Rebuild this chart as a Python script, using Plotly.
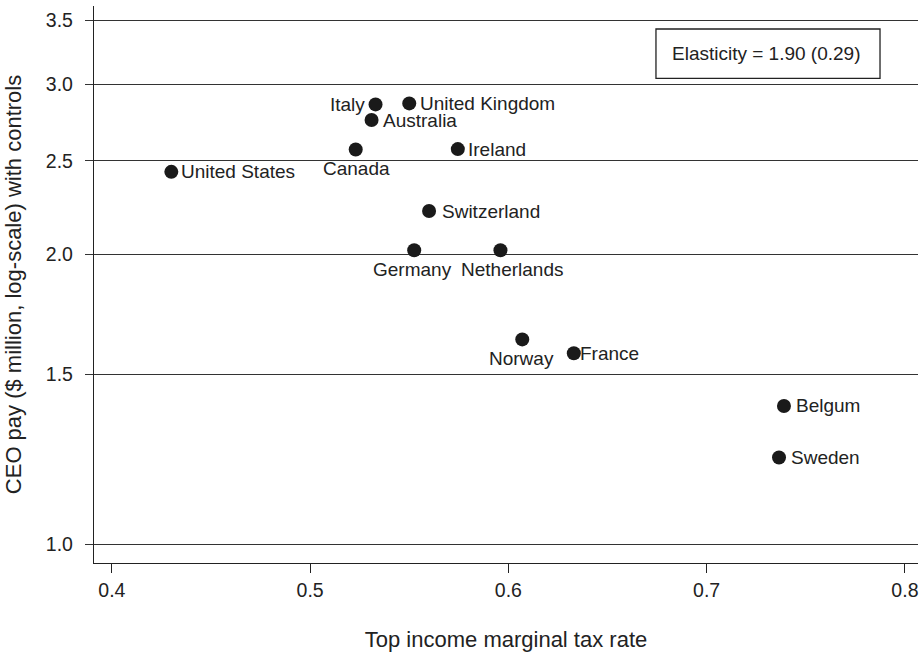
import plotly.graph_objects as go
import math

countries = ["United States", "Italy", "United Kingdom", "Australia", "Canada", "Ireland",
             "Switzerland", "Germany", "Netherlands", "Norway", "France", "Belgum", "Sweden"]
tax_rate = [0.430, 0.533, 0.550, 0.531, 0.523, 0.5745,
            0.560, 0.5525, 0.596, 0.607, 0.633, 0.739, 0.7365]
ceo_pay = [2.435, 2.861, 2.868, 2.756, 2.569, 2.571,
           2.217, 2.019, 2.019, 1.631, 1.578, 1.391, 1.230]
# label placement: (side, horizontal shift px)
label_side = ["right", "left", "right", "right", "below", "right",
              "right", "below", "below", "below", "right", "right", "right"]
label_dx = [9, -10, 10, 10, 1, 9, 12, -2, 11.5, -1, 5, 11, 11]

y_ticks = [1.0, 1.5, 2.0, 2.5, 3.0, 3.5]
y_ticklabels = ["1.0", "1.5", "2.0", "2.5", "3.0", "3.5"]
x_ticks = [0.4, 0.5, 0.6, 0.7, 0.8]
x_ticklabels = ["0.4", "0.5", "0.6", "0.7", "0.8"]

FONT = "Liberation Sans, Arial, sans-serif"
TXT = "#222222"
LBL = 19

fig = go.Figure()
fig.add_trace(go.Scatter(
    x=tax_rate, y=ceo_pay, mode="markers",
    marker=dict(size=14, color="#1a1a1a"),
    cliponaxis=False, showlegend=False, hovertext=countries,
))

for name, xv, yv, side, dx in zip(countries, tax_rate, ceo_pay, label_side, label_dx):
    if side == "right":
        kw = dict(xanchor="left", yanchor="middle", xshift=dx, yshift=0)
    elif side == "left":
        kw = dict(xanchor="right", yanchor="middle", xshift=dx, yshift=0)
    else:
        kw = dict(xanchor="center", yanchor="top", xshift=dx, yshift=-8)
    fig.add_annotation(x=xv, y=math.log10(yv), xref="x", yref="y", text=name,
                       showarrow=False, borderpad=0,
                       font=dict(family=FONT, size=LBL, color=TXT), **kw)

fig.update_layout(
    width=924, height=653,
    margin=dict(l=94, r=6, t=6, b=90),
    paper_bgcolor="white", plot_bgcolor="white",
    font=dict(family=FONT, size=19, color=TXT),
    xaxis=dict(
        range=[0.391, 0.8066], tickvals=x_ticks, ticktext=x_ticklabels,
        automargin=False,
        showgrid=False, zeroline=False, showline=True, linecolor="#222", linewidth=1.3,
        ticks="outside", ticklen=9, tickcolor="#222", tickwidth=1.3,
        tickfont=dict(size=19.5, color=TXT),
        title=dict(text="Top income marginal tax rate", font=dict(size=22, color=TXT), standoff=32),
    ),
    yaxis=dict(
        type="log", range=[math.log10(0.9556), math.log10(3.62)],
        tickvals=y_ticks, ticktext=y_ticklabels, automargin=False,
        showgrid=True, gridcolor="#333", gridwidth=1.3,
        zeroline=False, showline=True, linecolor="#222", linewidth=1.3,
        ticks="outside", ticklen=8, tickcolor="#333", tickwidth=1.3,
        ticklabelstandoff=8,
        tickfont=dict(size=19.5, color=TXT),
        title=dict(text="CEO pay ($ million, log-scale) with controls", font=dict(size=22, color=TXT), standoff=18),
    ),
)

fig.add_shape(type="rect", xref="paper", yref="paper",
              x0=0.682, x1=0.9539, y0=0.8702, y1=0.9587,
              line=dict(color="#222", width=1.3), fillcolor="white")
fig.add_annotation(xref="paper", yref="paper", x=0.8164, y=0.9156,
                   text="Elasticity = 1.90 (0.29)", showarrow=False,
                   font=dict(family=FONT, size=LBL, color=TXT),
                   xanchor="center", yanchor="middle")

fig.write_html("out.html", config={"displayModeBar": False},
               post_script="document.body.style.margin='0';document.body.style.overflow='hidden';")
